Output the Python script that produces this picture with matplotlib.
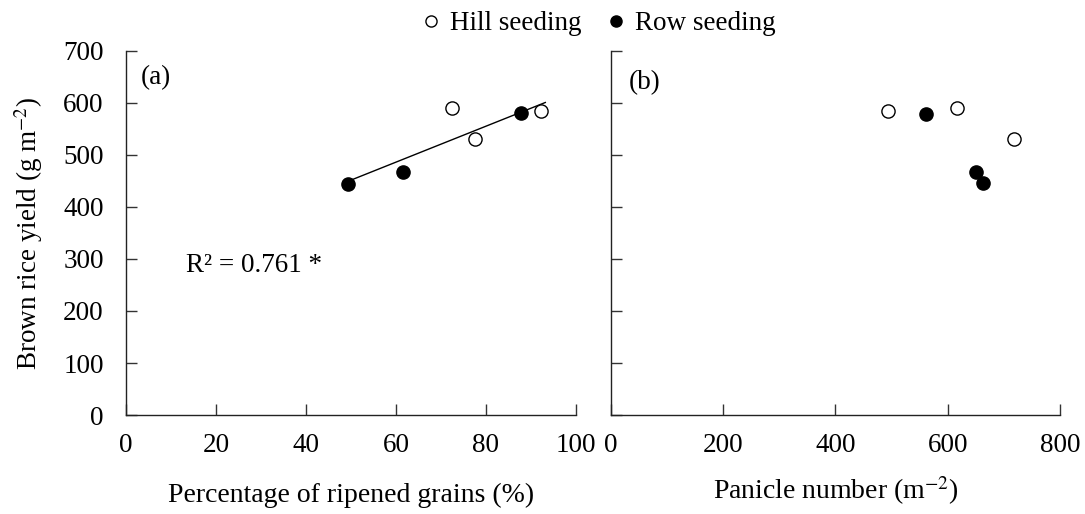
import numpy as np
import matplotlib
matplotlib.use('Agg')
import matplotlib.pyplot as plt
from matplotlib.lines import Line2D

plt.rcParams['font.family'] = ['Liberation Serif', 'DejaVu Serif']
plt.rcParams['mathtext.fontset'] = 'stix'
plt.rcParams['font.size'] = 19.5

# ── data ──────────────────────────────────────────────────
# (a) percentage of ripened grains vs yield
hill_ripened = [72.4, 77.6, 92.2]
hill_yield_a = [590, 530, 585]
row_ripened = [49.4, 61.5, 87.8]
row_yield_a = [445, 467, 580]

# (b) panicle number vs yield
hill_panicle = [493, 719, 617]
hill_yield_b = [585, 530, 590]
row_panicle = [562, 651, 663]
row_yield_b = [579, 468, 447]

r2_text = 'R² = 0.761 *'
y_ticks = list(range(0, 701, 100))
xa_ticks = list(range(0, 101, 20))
xb_ticks = list(range(0, 801, 200))

fig = plt.figure(figsize=(10.85, 5.14), dpi=100)
ax1 = fig.add_axes([0.1161, 0.1926, 0.4147, 0.7082])
ax2 = fig.add_axes([0.5631, 0.1926, 0.4138, 0.7082])

ms = 9.5
for ax in (ax1, ax2):
    for s in ('top', 'right'):
        ax.spines[s].set_visible(False)
    for s in ('left', 'bottom'):
        ax.spines[s].set_linewidth(1.0)
        ax.spines[s].set_color('#222222')
    ax.set_ylim(0, 700)
    ax.set_yticks(y_ticks)
    ax.tick_params(direction='in', length=8, width=1, color='#333333',
                   labelsize=19.5)
    ax.tick_params(axis='x', pad=13)
    ax.tick_params(axis='y', pad=16)

# ── panel (a) ─────────────────────────────────────────────
ax1.set_xlim(0, 100)
ax1.set_xticks(xa_ticks)
all_x = np.array(hill_ripened + row_ripened)
all_y = np.array(hill_yield_a + row_yield_a)
k, b = np.polyfit(all_x, all_y, 1)
xl = np.array([all_x.min(), all_x.max() + 1])
ax1.plot(xl, k * xl + b, color='black', lw=1, zorder=1)
ax1.plot(hill_ripened, hill_yield_a, 'o', ms=ms, mfc='white', mec='black',
         mew=1, zorder=3)
ax1.plot(row_ripened, row_yield_a, 'o', ms=ms, mfc='black', mec='black',
         zorder=3)
ax1.text(13.3, 275, r2_text, fontsize=19.5, va='baseline')
ax1.text(0.033, 0.962, '(a)', transform=ax1.transAxes, va='top', fontsize=19.5)
ax1.set_xlabel('Percentage of ripened grains (%)', fontsize=20, labelpad=18)
ax1.set_ylabel(r'Brown rice yield (g m$^{-2}$)', fontsize=19.5, labelpad=13)

# ── panel (b) ─────────────────────────────────────────────
ax2.set_xlim(0, 800)
ax2.set_xticks(xb_ticks)
ax2.tick_params(axis='y', labelleft=False)
ax2.plot(hill_panicle, hill_yield_b, 'o', ms=ms, mfc='white', mec='black',
         mew=1, zorder=3)
ax2.plot(row_panicle, row_yield_b, 'o', ms=ms, mfc='black', mec='black',
         zorder=3)
ax2.text(0.04, 0.948, '(b)', transform=ax2.transAxes, va='top', fontsize=19.5)
ax2.set_xlabel(r'Panicle number (m$^{-2}$)', fontsize=20, labelpad=12)

# ── legend on top ─────────────────────────────────────────
handles = [
    Line2D([], [], ls='none', marker='o', ms=8, mfc='white', mec='black', mew=1),
    Line2D([], [], ls='none', marker='o', ms=8, mfc='black', mec='black'),
]
fig.legend(handles, ['Hill seeding', 'Row seeding'], loc='center',
           bbox_to_anchor=(0.551, 0.954), ncol=2, frameon=False,
           handlelength=0.8, handletextpad=0.3, columnspacing=0.9,
           fontsize=19.5, borderpad=0)

fig.savefig('out.png', dpi=100)
